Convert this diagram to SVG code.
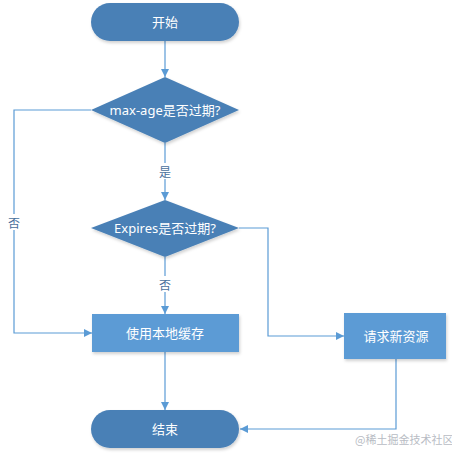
<svg xmlns="http://www.w3.org/2000/svg" width="452" height="456" viewBox="0 0 452 456">
<style>
.term{fill:#4a80b6;}
.dia{fill:#4a80b6;}
.box{fill:#5b9bd5;}
.t{font-family:"Noto Sans","Noto Sans CJK SC",sans-serif;font-size:13px;fill:#ffffff;text-anchor:middle;dominant-baseline:central;}
.lbl{font-family:"Noto Sans CJK SC",sans-serif;font-size:12px;fill:#4a6f9c;text-anchor:middle;dominant-baseline:central;}
.ln{fill:none;stroke:#5b9bd5;stroke-width:1.2;marker-end:url(#ah);}
.wm{font-family:"Noto Sans CJK SC",sans-serif;font-size:11px;fill:#b8bcc4;dominant-baseline:central;}
</style>
<defs>
<marker id="ah" viewBox="0 0 10 10" refX="10" refY="5" markerWidth="8" markerHeight="8" markerUnits="userSpaceOnUse" orient="auto">
<path d="M0,0 L10,5 L0,10 z" fill="#5b9bd5"/>
</marker>
<filter id="sh" x="-10%" y="-10%" width="120%" height="130%">
<feDropShadow dx="1" dy="2" stdDeviation="1.5" flood-color="#000" flood-opacity="0.18"/>
</filter>
</defs>
<rect width="452" height="456" fill="#ffffff"/>
<g id="connectors">
<path class="ln" d="M165,41 V77"/>
<path class="ln" d="M165,143 V200"/>
<path class="ln" d="M91,110 H14 V333 H92"/>
<path class="ln" d="M165,257 V314"/>
<path class="ln" d="M239,228 H268 V336 H344"/>
<path class="ln" d="M165,352 V410"/>
<path class="ln" d="M396,359 V429 H240"/>
<rect x="157" y="163" width="16" height="16" fill="#ffffff"/>
<text class="lbl" x="165" y="171">是</text>
<rect x="6" y="214" width="16" height="16" fill="#ffffff"/>
<text class="lbl" x="14" y="222">否</text>
<rect x="157" y="276" width="16" height="16" fill="#ffffff"/>
<text class="lbl" x="165" y="284">否</text>
</g>
<g id="start">
<rect class="term" x="91" y="3" width="148" height="38" rx="19" filter="url(#sh)"/>
<text class="t" x="165" y="22">开始</text>
</g>
<g id="maxage">
<polygon class="dia" points="165,77 239,110 165,143 91,110" filter="url(#sh)"/>
<text class="t" x="165" y="110" font-size="12.5">max-age是否过期?</text>
</g>
<g id="expires">
<polygon class="dia" points="165,200 239,228 165,257 91,228" filter="url(#sh)"/>
<text class="t" x="165" y="228" font-size="12.5">Expires是否过期?</text>
</g>
<g id="local">
<rect class="box" x="92" y="314" width="147" height="38" filter="url(#sh)"/>
<text class="t" x="165" y="333">使用本地缓存</text>
</g>
<g id="request">
<rect class="box" x="344" y="313" width="102" height="46" filter="url(#sh)"/>
<text class="t" x="396" y="336">请求新资源</text>
</g>
<g id="end">
<rect class="term" x="91" y="410" width="148" height="38" rx="19" filter="url(#sh)"/>
<text class="t" x="165" y="429">结束</text>
</g>
<text class="wm" x="355" y="439">@稀土掘金技术社区</text>
</svg>
